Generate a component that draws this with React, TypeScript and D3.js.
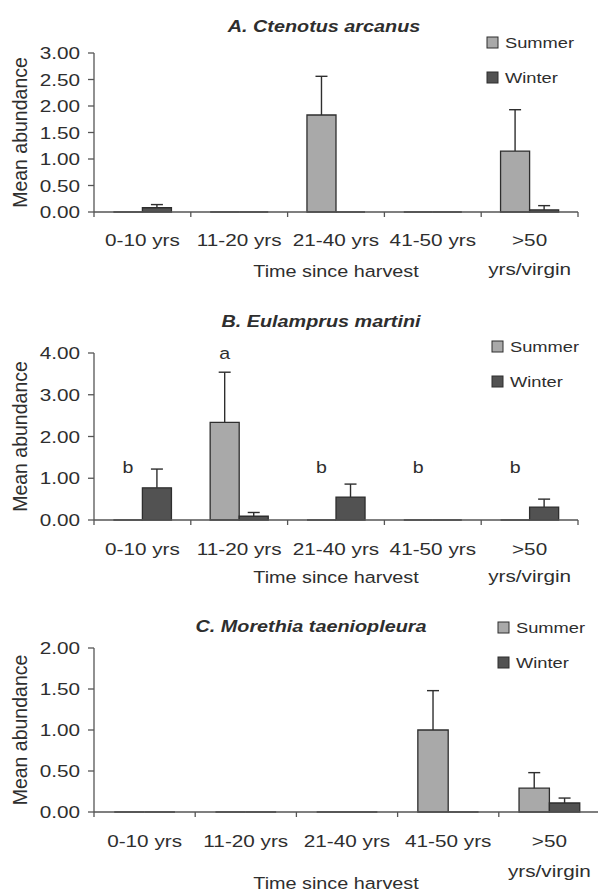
import React from "react";
import * as d3 from "d3";

// time since harvest classes
const categories = ["0-10 yrs", "11-20 yrs", "21-40 yrs", "41-50 yrs", ">50 yrs/virgin"];
const tickLabels = [["0-10 yrs"], ["11-20 yrs"], ["21-40 yrs"], ["41-50 yrs"], [">50", "yrs/virgin"]];
const seasons = ["Summer", "Winter"];

// A. Ctenotus arcanus
const ctenotusSummer = [0, 0, 1.83, 0, 1.15];
const ctenotusSummerSE = [0, 0, 0.73, 0, 0.78];
const ctenotusWinter = [0.08, 0, 0, 0, 0.04];
const ctenotusWinterSE = [0.06, 0, 0, 0, 0.08];
const ctenotusTicks = ["0.00", "0.50", "1.00", "1.50", "2.00", "2.50", "3.00"];

// B. Eulamprus martini
const eulamprusSummer = [0, 2.34, 0, 0, 0];
const eulamprusSummerSE = [0, 1.2, 0, 0, 0];
const eulamprusWinter = [0.77, 0.09, 0.55, 0, 0.31];
const eulamprusWinterSE = [0.45, 0.09, 0.31, 0, 0.19];
const eulamprusTicks = ["0.00", "1.00", "2.00", "3.00", "4.00"];
const eulamprusLetters = ["b", "a", "b", "b", "b"];

// C. Morethia taeniopleura
const morethiaSummer = [0, 0, 0, 1.0, 0.29];
const morethiaSummerSE = [0, 0, 0, 0.48, 0.19];
const morethiaWinter = [0, 0, 0, 0, 0.11];
const morethiaWinterSE = [0, 0, 0, 0, 0.06];
const morethiaTicks = ["0.00", "0.50", "1.00", "1.50", "2.00"];

const FONT = "'Liberation Sans', Arial, sans-serif";
const INK = "#2e2e2e";
const COLORS = { Summer: "#a9a9a9", Winter: "#525252" };

const T = ({ x, y, size = 17, anchor = "middle", sx = 1.22, weight = "normal", italic = false, children }: any) => (
  <text
    transform={`translate(${x},${y}) scale(${sx},1)`}
    textAnchor={anchor}
    fontSize={size}
    fontFamily={FONT}
    fontWeight={weight}
    fontStyle={italic ? "italic" : "normal"}
    fill={INK}
  >
    {children}
  </text>
);

const Panel = ({ cfg }: any) => {
  const { summer, summerSE, winter, winterSE, ticks, letters } = cfg;
  const yMax = +ticks[ticks.length - 1];
  const x = d3.scaleBand().domain(categories).range([cfg.x0, cfg.x1]);
  const bw = x.bandwidth();
  const sub = d3.scaleBand().domain(seasons).range([bw * 0.2, bw * 0.8]);
  const y = d3.scaleLinear().domain([0, yMax]).range([cfg.yBase, cfg.yTop]);
  const series = [
    { key: "Summer", vals: summer, se: summerSE },
    { key: "Winter", vals: winter, se: winterSE },
  ];
  const bounds = d3.range(categories.length + 1).map((i) => cfg.x0 + i * bw);

  return (
    <g>
      <T x={cfg.titleX} y={cfg.titleY} size={16.5} weight="bold" italic sx={1.2}>
        {cfg.title}
      </T>
      {/* legend */}
      {seasons.map((s, i) => (
        <g key={s}>
          <rect x={cfg.legX} y={cfg.legY + i * 35} width={11} height={11} fill={COLORS[s]} stroke={INK} strokeWidth={1} />
          <T x={cfg.legX + 18} y={cfg.legY + i * 35 + 11} size={15.5} anchor="start" sx={1.18}>
            {s}
          </T>
        </g>
      ))}
      {/* bars */}
      {series.map((s) =>
        categories.map((c, i) => {
          const bx = x(c)! + sub(s.key)!;
          const w = sub.bandwidth();
          const top = y(s.vals[i]);
          const err = y(s.vals[i] + s.se[i]);
          const cx = bx + w / 2;
          return (
            <g key={s.key + c}>
              <path
                d={`M${bx},${cfg.yBase}V${top}H${bx + w}V${cfg.yBase}Z`}
                fill={COLORS[s.key]}
                stroke={INK}
                strokeWidth={1.3}
              />
              {s.se[i] > 0 && (
                <g stroke={INK} strokeWidth={1.4}>
                  <line x1={cx} x2={cx} y1={top} y2={err} />
                  <line x1={cx - 6} x2={cx + 6} y1={err} y2={err} />
                </g>
              )}
            </g>
          );
        })
      )}
      {/* significance letters */}
      {letters &&
        letters.map((l: string, i: number) => (
          <T key={i} x={x(categories[i])! + sub("Summer")! + sub.bandwidth() / 2} y={y(cfg.letterLevels[i])} size={17} sx={1.15}>
            {l}
          </T>
        ))}
      {/* axes */}
      <g stroke="#555" strokeWidth={1.3}>
        <line x1={cfg.x0} x2={cfg.x0} y1={cfg.yTop} y2={cfg.yBase} />
        <line x1={cfg.x0} x2={cfg.x1} y1={cfg.yBase} y2={cfg.yBase} />
        {ticks.map((t: string) => (
          <line key={t} x1={cfg.x0 - 6} x2={cfg.x0} y1={y(+t)} y2={y(+t)} />
        ))}
        {bounds.map((b, i) => (
          <line key={i} x1={b} x2={b} y1={cfg.yBase} y2={cfg.yBase + 5} />
        ))}
      </g>
      {ticks.map((t: string) => (
        <T key={t} x={80} y={y(+t) + 6} anchor="end">
          {t}
        </T>
      ))}
      {tickLabels.map((lines, i) =>
        lines.map((ln, j) => (
          <T key={i + "-" + j} x={x(categories[i])! + bw / 2} y={j === 0 ? cfg.labelY : cfg.label2Y}>
            {ln}
          </T>
        ))
      )}
      <T x={(cfg.x0 + Math.min(cfg.x1, 578)) / 2} y={cfg.axisTitleY} size={16.5} sx={1.2}>
        Time since harvest
      </T>
      <text
        transform={`translate(27,${(cfg.yTop + cfg.yBase) / 2}) rotate(-90)`}
        textAnchor="middle"
        fontSize={19.5}
        fontFamily={FONT}
        fill={INK}
      >
        Mean abundance
      </text>
    </g>
  );
};

const panels = [
  {
    title: "A. Ctenotus arcanus",
    summer: ctenotusSummer, summerSE: ctenotusSummerSE,
    winter: ctenotusWinter, winterSE: ctenotusWinterSE,
    ticks: ctenotusTicks,
    x0: 94, x1: 578, yTop: 53, yBase: 212,
    titleX: 324, titleY: 31.5, legX: 487, legY: 37,
    labelY: 246, label2Y: 275, axisTitleY: 277,
  },
  {
    title: "B. Eulamprus martini",
    summer: eulamprusSummer, summerSE: eulamprusSummerSE,
    winter: eulamprusWinter, winterSE: eulamprusWinterSE,
    ticks: eulamprusTicks,
    letters: eulamprusLetters, letterLevels: [1.12, 3.85, 1.12, 1.12, 1.12],
    x0: 94, x1: 578, yTop: 353, yBase: 520,
    titleX: 321, titleY: 327, legX: 492, legY: 341,
    labelY: 555, label2Y: 582, axisTitleY: 583,
  },
  {
    title: "C. Morethia taeniopleura",
    summer: morethiaSummer, summerSE: morethiaSummerSE,
    winter: morethiaWinter, winterSE: morethiaWinterSE,
    ticks: morethiaTicks,
    x0: 94, x1: 600, yTop: 648, yBase: 812,
    titleX: 311, titleY: 632, legX: 498, legY: 622,
    labelY: 847, label2Y: 877, axisTitleY: 889,
  },
];

export default function App() {
  return (
    <svg width={598} height={893} style={{ position: "absolute", left: 0, top: 0, background: "#fff" }}>
      {panels.map((p) => (
        <Panel key={p.title} cfg={p} />
      ))}
    </svg>
  );
}
